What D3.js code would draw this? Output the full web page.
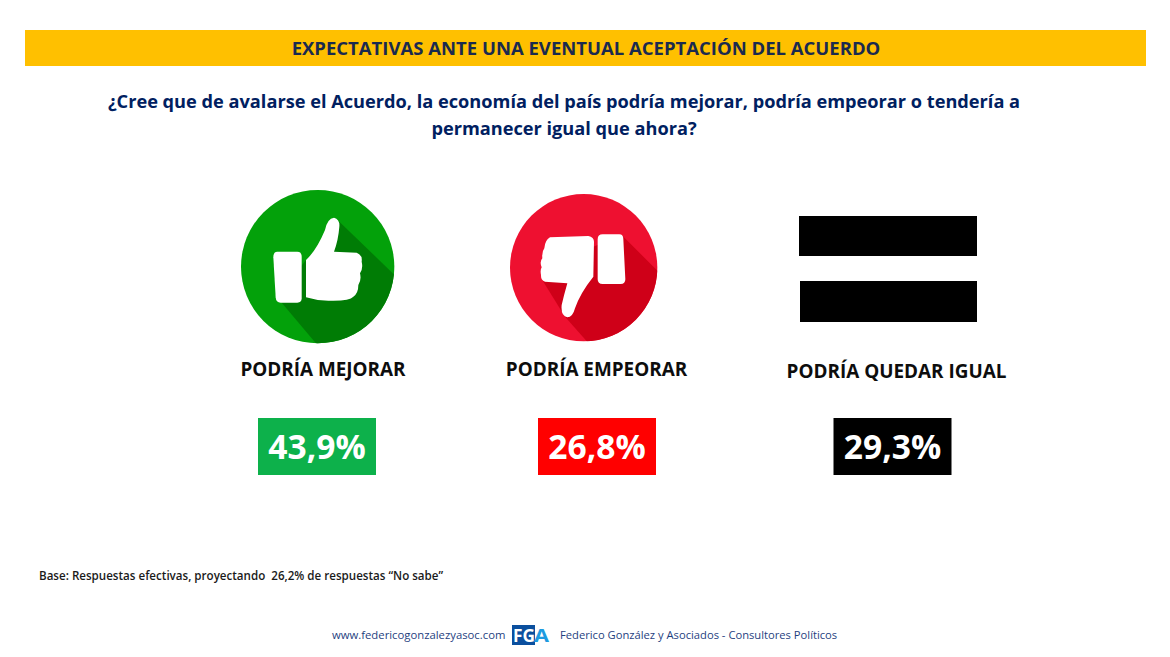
<!doctype html>
<html lang="es">
<head>
<meta charset="utf-8">
<title>Expectativas ante una eventual aceptación del acuerdo</title>
<style>
html, body { margin: 0; padding: 0; background: #fff; }
svg { display: block; }
text { font-family: "Open Sans", "Noto Sans", sans-serif; }
</style>
</head>
<body>
<svg id="chart" width="1170" height="657"></svg>
<script src="https://cdn.jsdelivr.net/npm/d3@7"></script>
<script>
var categories = ["PODRÍA MEJORAR", "PODRÍA EMPEORAR", "PODRÍA QUEDAR IGUAL"];
var values = [43.9, 26.8, 29.3];
var boxColours = ["#0DB14B", "#FF0000", "#000000"];
var titleText = "EXPECTATIVAS ANTE UNA EVENTUAL ACEPTACIÓN DEL ACUERDO";
var questionLines = [
    "¿Cree que de avalarse el Acuerdo, la economía del país podría mejorar, podría empeorar o tendería a",
    "permanecer igual que ahora?"
];
var baseNote = "Base: Respuestas efectivas, proyectando  26,2% de respuestas “No sabe”";
var footerUrl = "www.federicogonzalezyasoc.com";
var footerName = "Federico González y Asociados - Consultores Políticos";

var svg = d3.select("#chart");
var pct = d3.formatLocale({decimal: ",", thousands: ".", grouping: [3], currency: ["", ""]}).format(".1f");

// columns are not evenly spaced in the slide
var boxX = d3.scaleOrdinal().domain(categories).range([317, 597, 892.5]);
var labelX = d3.scaleOrdinal().domain(categories).range([323, 596.5, 896.5]);
var labelY = d3.scaleOrdinal().domain(categories).range([376, 376, 378]);

// header
svg.append("rect").attr("x", 25).attr("y", 30).attr("width", 1121).attr("height", 36).attr("fill", "#FFC000");
svg.append("text").attr("x", 586).attr("y", 55).attr("text-anchor", "middle")
    .attr("font-size", 18.5).attr("font-weight", 700).attr("fill", "#1A2A4F").text(titleText);

svg.selectAll("text.question").data(questionLines).join("text")
    .attr("class", "question")
    .attr("x", 564).attr("y", function(d, i) { return 108 + i * 27; })
    .attr("text-anchor", "middle").attr("font-size", 18.2).attr("font-weight", 700)
    .attr("fill", "#002060").text(function(d) { return d; });

// icons, traced in a 3x crop space so the outlines stay readable
function icon(ox, oy, id, cx, cy, r, fill, dark, shadow, parts) {
    var g = svg.append("g").attr("transform", "translate(" + ox + "," + oy + ") scale(" + (1 / 3) + ")");
    g.append("clipPath").attr("id", id).append("circle").attr("cx", cx).attr("cy", cy).attr("r", r);
    g.append("circle").attr("cx", cx).attr("cy", cy).attr("r", r).attr("fill", fill);
    g.append("path").attr("d", shadow).attr("fill", dark).attr("clip-path", "url(#" + id + ")");
    parts.forEach(function(p) { g.append("path").attr("d", p).attr("fill", "#fff"); });
}

icon(220, 180, "clipUp", 293, 260, 230, "#03A10A", "#007C05",
    "M358 125L560 320V540H330L170 350L258 240Z",
    ["M172 215H232Q245 215 245 230V355Q245 368 232 368H182Q168 368 167 352L160 232Q160 215 172 215Z",
     "M258 240Q290 210 315 150Q322 115 342 113Q360 118 358 140Q355 180 342 215L410 218Q428 225 425 245Q430 265 420 280Q425 300 415 315Q415 340 400 350Q390 362 340 362Q300 365 258 352Z"]);

icon(490, 180, "clipDown", 281, 263, 221, "#EE1030", "#CF0018",
    "M395 165L560 330V540H340L225 410L160 305L310 200Z",
    ["M338 163H388Q400 163 400 178L406 298Q406 312 392 312H338Q323 312 323 298V178Q323 163 338 163Z",
     "M180 172L295 168Q312 172 312 185L310 290Q270 340 255 385Q248 412 232 412Q212 408 215 375Q222 345 232 310L165 305Q152 300 153 285Q150 270 155 262Q148 245 157 235Q155 215 163 205Q165 180 180 172Z"]);

// equals sign
svg.append("rect").attr("x", 799).attr("y", 216).attr("width", 178).attr("height", 40).attr("fill", "#000");
svg.append("rect").attr("x", 800).attr("y", 281).attr("width", 177).attr("height", 41).attr("fill", "#000");

// labels and value boxes
svg.selectAll("text.label").data(categories).join("text")
    .attr("class", "label")
    .attr("x", function(d) { return labelX(d); })
    .attr("y", function(d) { return labelY(d); })
    .attr("text-anchor", "middle").attr("font-size", 18.9).attr("font-weight", 700)
    .attr("fill", "#0D0D0D").text(function(d) { return d; });

svg.selectAll("rect.box").data(values).join("rect")
    .attr("class", "box")
    .attr("x", function(d, i) { return boxX(categories[i]) - 59; })
    .attr("y", 418).attr("width", 118).attr("height", 57)
    .attr("fill", function(d, i) { return boxColours[i]; });

svg.selectAll("text.value").data(values).join("text")
    .attr("class", "value")
    .attr("x", function(d, i) { return boxX(categories[i]); })
    .attr("y", 459).attr("text-anchor", "middle")
    .attr("font-size", 33.6).attr("font-weight", 700).attr("fill", "#fff")
    .text(function(d) { return pct(d) + "%"; });

// footnote and footer
svg.append("text").attr("x", 39).attr("y", 580).attr("font-size", 11.6).attr("font-weight", 600)
    .attr("fill", "#1A1A1A").style("white-space", "pre").text(baseNote);
svg.append("text").attr("x", 332).attr("y", 639).attr("font-size", 11.3).attr("fill", "#1F3F7F").text(footerUrl);
svg.append("text").attr("x", 560).attr("y", 639).attr("font-size", 11.2).attr("fill", "#1F3F7F").text(footerName);

var logo = svg.append("g");
logo.append("rect").attr("x", 512).attr("y", 625).attr("width", 23).attr("height", 20).attr("fill", "#0B4F9E");
logo.append("text").attr("x", 513).attr("y", 642).attr("font-size", 18).attr("font-weight", 700)
    .attr("fill", "#fff").attr("textLength", 22).attr("lengthAdjust", "spacingAndGlyphs").text("FG");
logo.append("text").attr("x", 534).attr("y", 642).attr("font-size", 18).attr("font-weight", 700)
    .attr("fill", "#1E9BE0").attr("textLength", 15).attr("lengthAdjust", "spacingAndGlyphs").text("A");
</script>
</body>
</html>
